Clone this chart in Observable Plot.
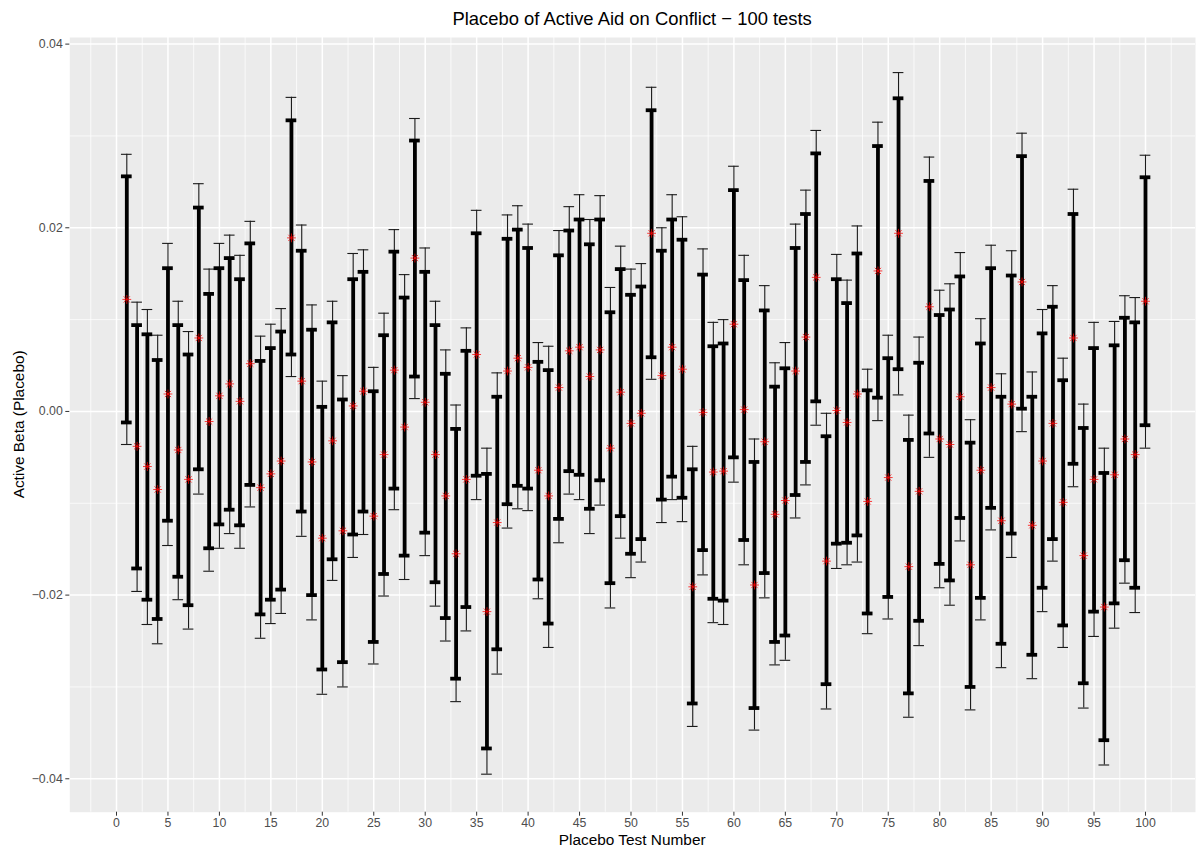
<!DOCTYPE html>
<html>
<head>
<meta charset="utf-8">
<script src="https://cdn.jsdelivr.net/npm/d3@7"></script>
<script src="https://cdn.jsdelivr.net/npm/@observablehq/plot@0.6"></script>
<style>
  html, body { margin: 0; padding: 0; background: #ffffff; }
  #chart { position: relative; width: 1200px; height: 850px; }
</style>
</head>
<body>
<div id="chart"></div>
<script>
// ---- Data ----
const tests = d3.range(1, 101);

const estimate = [
  0.0122, -0.0038, -0.0060, -0.0085, 0.0019, -0.0042, -0.0074, 0.0080, -0.0011, 0.0017,
  0.0030, 0.0011, 0.0052, -0.0083, -0.0068, -0.0054, 0.0189, 0.0033, -0.0055, -0.0138,
  -0.0032, -0.0130, 0.0006, 0.0022, -0.0114, -0.0047, 0.0045, -0.0017, 0.0167, 0.0010,
  -0.0047, -0.0092, -0.0155, -0.0074, 0.0062, -0.0218, -0.0121, 0.0044, 0.0058, 0.0048,
  -0.0064, -0.0092, 0.0026, 0.0066, 0.0070, 0.0038, 0.0067, -0.0040, 0.0021, -0.0013,
  -0.0002, 0.0194, 0.0039, 0.0070, 0.0046, -0.0191, -0.0001, -0.0066, -0.0065, 0.0095,
  0.0002, -0.0189, -0.0033, -0.0112, -0.0097, 0.0044, 0.0081, 0.0146, -0.0163, 0.0001,
  -0.0012, 0.0019, -0.0098, 0.0153, -0.0072, 0.0194, -0.0169, -0.0087, 0.0114, -0.0030,
  -0.0036, 0.0016, -0.0167, -0.0064, 0.0026, -0.0119, 0.0008, 0.0141, -0.0124, -0.0054,
  -0.0013, -0.0099, 0.0080, -0.0157, -0.0074, -0.0213, -0.0069, -0.0030, -0.0047, 0.0120
];

const upper90 = [
  0.0256, 0.0094, 0.0084, 0.0056, 0.0156, 0.0094, 0.0062, 0.0222, 0.0128, 0.0156,
  0.0167, 0.0144, 0.0183, 0.0055, 0.0069, 0.0087, 0.0317, 0.0175, 0.0089, 0.0005,
  0.0097, 0.0013, 0.0144, 0.0152, 0.0022, 0.0083, 0.0174, 0.0124, 0.0295, 0.0152,
  0.0094, 0.0041, -0.0019, 0.0066, 0.0194, -0.0068, 0.0016, 0.0188, 0.0198, 0.0178,
  0.0054, 0.0045, 0.0170, 0.0197, 0.0209, 0.0182, 0.0209, 0.0108, 0.0155, 0.0127,
  0.0136, 0.0328, 0.0175, 0.0209, 0.0187, -0.0063, 0.0149, 0.0071, 0.0074, 0.0241,
  0.0143, -0.0055, 0.0110, 0.0027, 0.0047, 0.0178, 0.0215, 0.0281, -0.0027, 0.0144,
  0.0118, 0.0172, 0.0023, 0.0289, 0.0058, 0.0341, -0.0031, 0.0053, 0.0251, 0.0105,
  0.0111, 0.0147, -0.0034, 0.0074, 0.0156, 0.0016, 0.0148, 0.0278, 0.0016, 0.0085,
  0.0114, 0.0034, 0.0215, -0.0018, 0.0069, -0.0067, 0.0072, 0.0102, 0.0097, 0.0255
];

const lower90 = [
  -0.0012, -0.0171, -0.0205, -0.0226, -0.0119, -0.0180, -0.0211, -0.0063, -0.0149, -0.0123,
  -0.0107, -0.0124, -0.0080, -0.0221, -0.0205, -0.0194, 0.0062, -0.0109, -0.0200, -0.0281,
  -0.0161, -0.0273, -0.0134, -0.0109, -0.0251, -0.0177, -0.0084, -0.0157, 0.0038, -0.0132,
  -0.0186, -0.0225, -0.0291, -0.0213, -0.0070, -0.0367, -0.0259, -0.0101, -0.0081, -0.0084,
  -0.0183, -0.0231, -0.0117, -0.0065, -0.0069, -0.0106, -0.0075, -0.0187, -0.0114, -0.0155,
  -0.0139, 0.0059, -0.0096, -0.0071, -0.0094, -0.0318, -0.0151, -0.0204, -0.0206, -0.0050,
  -0.0140, -0.0323, -0.0176, -0.0251, -0.0244, -0.0091, -0.0055, 0.0011, -0.0297, -0.0144,
  -0.0143, -0.0135, -0.0220, 0.0015, -0.0202, 0.0046, -0.0307, -0.0228, -0.0024, -0.0166,
  -0.0184, -0.0116, -0.0300, -0.0203, -0.0105, -0.0253, -0.0133, 0.0003, -0.0265, -0.0192,
  -0.0139, -0.0233, -0.0057, -0.0296, -0.0218, -0.0358, -0.0209, -0.0162, -0.0192, -0.0015
];

const upper95 = [
  0.0280, 0.0119, 0.0111, 0.0083, 0.0183, 0.0120, 0.0087, 0.0248, 0.0155, 0.0183,
  0.0192, 0.0170, 0.0207, 0.0082, 0.0095, 0.0112, 0.0342, 0.0203, 0.0116, 0.0033,
  0.0120, 0.0039, 0.0172, 0.0176, 0.0048, 0.0107, 0.0198, 0.0149, 0.0319, 0.0178,
  0.0120, 0.0067, 0.0007, 0.0091, 0.0219, -0.0040, 0.0042, 0.0214, 0.0224, 0.0204,
  0.0075, 0.0071, 0.0197, 0.0223, 0.0236, 0.0209, 0.0235, 0.0135, 0.0180, 0.0155,
  0.0161, 0.0353, 0.0200, 0.0236, 0.0212, -0.0038, 0.0177, 0.0097, 0.0100, 0.0267,
  0.0170, -0.0030, 0.0137, 0.0053, 0.0075, 0.0204, 0.0241, 0.0306, -0.0002, 0.0171,
  0.0143, 0.0202, 0.0046, 0.0315, 0.0083, 0.0369, -0.0004, 0.0081, 0.0277, 0.0132,
  0.0139, 0.0173, -0.0009, 0.0101, 0.0181, 0.0041, 0.0175, 0.0303, 0.0043, 0.0111,
  0.0137, 0.0058, 0.0242, 0.0008, 0.0097, -0.0040, 0.0098, 0.0126, 0.0124, 0.0279
];

const lower95 = [
  -0.0036, -0.0196, -0.0232, -0.0253, -0.0146, -0.0205, -0.0237, -0.0090, -0.0174, -0.0149,
  -0.0133, -0.0149, -0.0104, -0.0247, -0.0231, -0.0220, 0.0038, -0.0136, -0.0227, -0.0308,
  -0.0184, -0.0300, -0.0159, -0.0134, -0.0275, -0.0201, -0.0107, -0.0183, 0.0014, -0.0157,
  -0.0212, -0.0250, -0.0316, -0.0239, -0.0096, -0.0395, -0.0286, -0.0127, -0.0106, -0.0108,
  -0.0204, -0.0257, -0.0143, -0.0090, -0.0096, -0.0133, -0.0102, -0.0214, -0.0138, -0.0181,
  -0.0164, 0.0035, -0.0121, -0.0096, -0.0120, -0.0343, -0.0178, -0.0230, -0.0232, -0.0077,
  -0.0167, -0.0347, -0.0203, -0.0276, -0.0271, -0.0116, -0.0080, -0.0015, -0.0324, -0.0171,
  -0.0167, -0.0164, -0.0242, -0.0010, -0.0226, 0.0018, -0.0333, -0.0255, -0.0050, -0.0192,
  -0.0211, -0.0141, -0.0325, -0.0227, -0.0129, -0.0279, -0.0159, -0.0022, -0.0291, -0.0218,
  -0.0163, -0.0257, -0.0082, -0.0323, -0.0245, -0.0385, -0.0236, -0.0187, -0.0219, -0.0040
];

const xTicks = [0, 5, 10, 15, 20, 25, 30, 35, 40, 45, 50, 55, 60, 65, 70, 75, 80, 85, 90, 95, 100];
const xMinorTicks = [-2.5, 2.5, 7.5, 12.5, 17.5, 22.5, 27.5, 32.5, 37.5, 42.5, 47.5, 52.5, 57.5, 62.5, 67.5, 72.5, 77.5, 82.5, 87.5, 92.5, 97.5, 102.5];
const yTicks = [-0.04, -0.02, 0, 0.02, 0.04];
const yMinorTicks = [-0.03, -0.01, 0.01, 0.03];

const titleText = "Placebo of Active Aid on Conflict \u2212 100 tests";
const xTitle = "Placebo Test Number";
const yTitle = "Active Beta (Placebo)";

// ---- Build table ----
const rows = tests.map((t, i) => ({
  test: t, est: estimate[i],
  lo90: lower90[i], hi90: upper90[i],
  lo95: lower95[i], hi95: upper95[i]
}));

const capHalf = 0.52; // errorbar width in data units (like ggplot width)

// ggplot shape 8: asterisk made of a plus and a times
const asterisk8 = {
  draw(context, size) {
    const r = Math.sqrt(size / Math.PI);
    const d = r * Math.SQRT1_2;
    context.moveTo(-r, 0); context.lineTo(r, 0);
    context.moveTo(0, -r); context.lineTo(0, r);
    context.moveTo(-d, -d); context.lineTo(d, d);
    context.moveTo(-d, d); context.lineTo(d, -d);
  }
};

const fmtY = d => (d < 0 ? "\u2212" : "") + Math.abs(d).toFixed(2);

const FONT = '"Liberation Sans", Arial, Helvetica, sans-serif';

const chart = Plot.plot({
  width: 1200,
  height: 850,
  marginLeft: 69.3,
  marginRight: 5,
  marginTop: 37,
  marginBottom: 38.3,
  style: { fontFamily: FONT, fontSize: "12.3px", background: "#ffffff", color: "#4D4D4D" },
  x: { domain: [-4.54, 104.86] },
  y: { domain: [-0.04364, 0.04072] },
  marks: [
    Plot.frame({ fill: "#EBEBEB", stroke: "none" }),
    Plot.gridY(yMinorTicks, { stroke: "#ffffff", strokeOpacity: 1, strokeWidth: 0.75 }),
    Plot.gridX(xMinorTicks, { stroke: "#ffffff", strokeOpacity: 1, strokeWidth: 0.75 }),
    Plot.gridY(yTicks, { stroke: "#ffffff", strokeOpacity: 1, strokeWidth: 1.5 }),
    Plot.gridX(xTicks, { stroke: "#ffffff", strokeOpacity: 1, strokeWidth: 1.5 }),
    Plot.axisX(xTicks, { tickSize: 4, tickPadding: 2, label: null, tickFormat: d => String(d), stroke: "#333333", fill: "#4D4D4D" }),
    Plot.axisY(yTicks, { tickSize: 4, tickPadding: 3, label: null, tickFormat: fmtY, stroke: "#333333", fill: "#4D4D4D" }),
    // 95% whiskers (thin)
    Plot.ruleX(rows, { x: "test", y1: "lo95", y2: "hi95", stroke: "#1a1a1a", strokeWidth: 1.1 }),
    Plot.ruleY(rows, { y: "hi95", x1: d => d.test - capHalf, x2: d => d.test + capHalf, stroke: "#1a1a1a", strokeWidth: 1.1 }),
    Plot.ruleY(rows, { y: "lo95", x1: d => d.test - capHalf, x2: d => d.test + capHalf, stroke: "#1a1a1a", strokeWidth: 1.1 }),
    // 90% bars (thick)
    Plot.ruleX(rows, { x: "test", y1: "lo90", y2: "hi90", stroke: "#000000", strokeWidth: 3.8 }),
    Plot.ruleY(rows, { y: "hi90", x1: d => d.test - capHalf, x2: d => d.test + capHalf, stroke: "#000000", strokeWidth: 3.8 }),
    Plot.ruleY(rows, { y: "lo90", x1: d => d.test - capHalf, x2: d => d.test + capHalf, stroke: "#000000", strokeWidth: 3.8 }),
    // point estimates
    Plot.dot(rows, { x: "test", y: "est", symbol: asterisk8, r: 4.4, stroke: "#FF0000", strokeWidth: 0.75, fill: "none" })
  ]
});

document.getElementById("chart").appendChild(chart);

// ---- Titles ----
const svg = d3.select(chart);
const panelCx = (69.3 + 1195) / 2;
svg.append("text")
  .attr("x", panelCx).attr("y", 25)
  .attr("text-anchor", "middle")
  .attr("font-family", FONT).attr("font-size", "18.4px").attr("fill", "#000000")
  .text(titleText);
svg.append("text")
  .attr("x", panelCx).attr("y", 845)
  .attr("text-anchor", "middle")
  .attr("font-family", FONT).attr("font-size", "15.4px").attr("fill", "#000000")
  .text(xTitle);
svg.append("text")
  .attr("transform", `translate(24, ${(37 + 811.7) / 2}) rotate(-90)`)
  .attr("text-anchor", "middle")
  .attr("font-family", FONT).attr("font-size", "15.4px").attr("fill", "#000000")
  .text(yTitle);
</script>
</body>
</html>
